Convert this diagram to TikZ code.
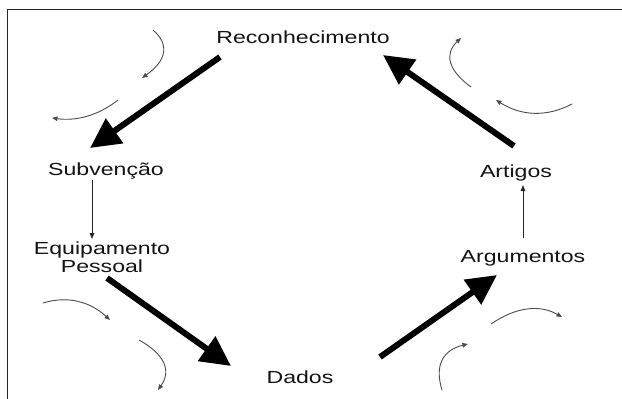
\documentclass[tikz,border=0pt]{standalone}
\usepackage{fontspec}
\setmainfont{Liberation Sans}
\usetikzlibrary{arrows.meta}
\newcommand{\hstretch}[1]{\scalebox{1.32}[1]{#1}}
\begin{document}
\begin{tikzpicture}[x=1pt,y=-1pt,
  lbl/.style={font=\fontsize{17.5}{18}\selectfont, inner sep=0pt, text=black!92},
  bigarrow/.style={line width=6pt, draw=black, -{Triangle[length=30pt,width=29pt]}},
  thinarrow/.style={line width=1pt, draw=black!85, -{Triangle[length=6pt,width=4.5pt]}},
  cycarrow/.style={line width=0.9pt, draw=black!70, -{Triangle[length=5.5pt,width=4.5pt]}}
]
\useasboundingbox (0,0) rectangle (622,399);
\draw[line width=1.3pt, black!85] (7.5,399) -- (7.5,9.5) -- (622,9.5);

% labels
\node[lbl, anchor=base] (rec) at (303,43) {\hstretch{Reconhecimento}};
\node[lbl, anchor=base] (sub) at (106,175) {\hstretch{Subvenção}};
\node[lbl, anchor=north, align=center] (equ) at (102,242) {\hstretch{Equipamento}\\\hstretch{Pessoal}};
\node[lbl, anchor=base] (dad) at (300,383) {\hstretch{Dados}};
\node[lbl, anchor=base] (arg) at (523,262) {\hstretch{Argumentos}};
\node[lbl, anchor=base] (art) at (516,177) {\hstretch{Artigos}};

% arrow end points
\coordinate (r1) at (220,57);  \coordinate (s1) at (90,148);
\coordinate (e1) at (107,278); \coordinate (d1) at (231,366);
\coordinate (d2) at (380,357); \coordinate (a2) at (497,275);
\coordinate (t2) at (514,146); \coordinate (r2) at (383,55);
\coordinate (s2) at (92,180);  \coordinate (e2) at (92,239);
\coordinate (g1) at (523,238); \coordinate (t1) at (523,185);

% thick arrows
\draw[bigarrow] (r1) -- (s1);
\draw[bigarrow] (e1) -- (d1);
\draw[bigarrow] (d2) -- (a2);
\draw[bigarrow] (t2) -- (r2);

% thin arrows
\draw[thinarrow] (s2) -- (e2);
\draw[thinarrow] (g1) -- (t1);

% cycle arrows
\draw[cycarrow] (153,30) .. controls (170,44.7) and (166.3,60.7) .. (142,78);
\draw[cycarrow] (118,100) .. controls (98.7,115.3) and (76.7,121.3) .. (52,118);
\draw[cycarrow] (471,87) .. controls (447.7,70) and (444.3,53.7) .. (461,38);
\draw[cycarrow] (572,104) .. controls (546.7,117.3) and (521.3,116) .. (496,100);
\draw[cycarrow] (43,303) .. controls (67.3,295.6) and (89.7,301.3) .. (110,320);
\draw[cycarrow] (139,340) .. controls (165.1,354.4) and (171.4,371) .. (158,390);
\draw[cycarrow] (491,324) .. controls (516.3,306.7) and (539.9,304.4) .. (562,317);
\draw[cycarrow] (442,390) .. controls (434.3,365.3) and (442.9,350) .. (468,344);
\end{tikzpicture}
\end{document}
